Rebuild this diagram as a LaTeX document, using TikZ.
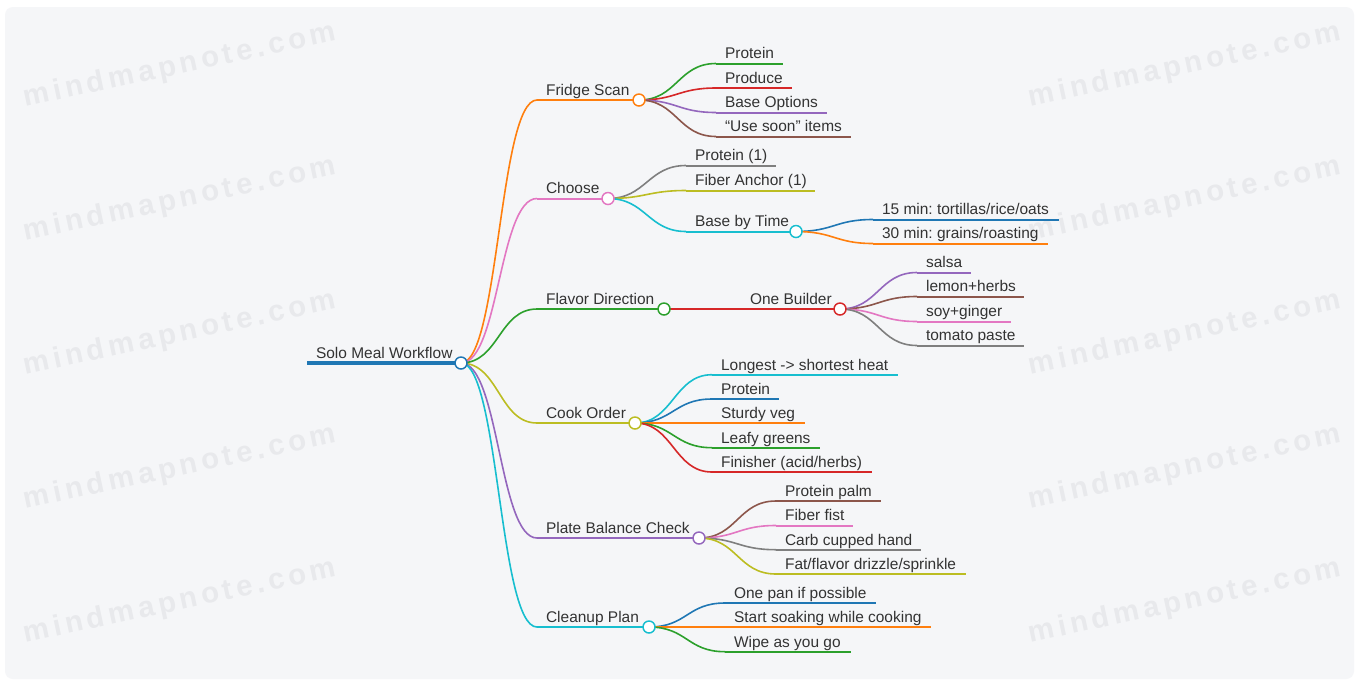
\documentclass[tikz,border=0pt]{standalone}
\usepackage{fontspec}
\setmainfont{Liberation Sans}
\frenchspacing
\definecolor{mblue}{HTML}{1F77B4}
\definecolor{morange}{HTML}{FF7F0E}
\definecolor{mgreen}{HTML}{2CA02C}
\definecolor{mred}{HTML}{D62728}
\definecolor{mpurple}{HTML}{9467BD}
\definecolor{mbrown}{HTML}{8C564B}
\definecolor{mpink}{HTML}{E377C2}
\definecolor{mgray}{HTML}{7F7F7F}
\definecolor{molive}{HTML}{BCBD22}
\definecolor{mcyan}{HTML}{17BECF}
\definecolor{bgc}{HTML}{F5F6F8}
\definecolor{wmc}{HTML}{E8E9EC}
\definecolor{txtc}{HTML}{333333}
\pgfdeclarelayer{wmlayer}
\pgfdeclarelayer{linklayer}
\pgfsetlayers{wmlayer,linklayer,main}
\tikzset{
  conn/.style={line width=1.2pt, out=0, in=180, distance=28.5pt},
  uline/.style={line width=1.5pt},
  rootline/.style={line width=2.6pt},
  lbl/.style={anchor=base west, inner sep=0pt, text=txtc, font=\fontsize{11.6pt}{14pt}\selectfont},
  dot/.style={circle, minimum size=9pt, inner sep=0pt, fill=white, line width=1.1pt},
  wm/.style={rotate=12, text=wmc, inner sep=0pt, font=\fontsize{22pt}{26pt}\selectfont\bfseries\addfontfeature{LetterSpace=14}}
}
% name, color, startx, y, endx, parent, text
\newcommand\mmleaf[7]{%
  \coordinate (#1-s) at (#3,#4);
  \coordinate (#1-e) at (#5,#4);
  \begin{pgfonlayer}{linklayer}
  \draw[conn,draw=#2] (#6.center) to (#1-s);
  \draw[uline,draw=#2] (#1-s) -- (#1-e);
  \end{pgfonlayer}
  \node[lbl] (#1-t) at ([xshift=6.6pt,yshift=3.4pt]#1-s) {#7};
}
% name, color, startx, y, circlex, parent, text
\newcommand\mminner[7]{%
  \coordinate (#1-s) at (#3,#4);
  \node[dot,draw=#2] (#1) at (#5,#4) {};
  \begin{pgfonlayer}{linklayer}
  \draw[conn,draw=#2] (#6.center) to (#1-s);
  \draw[uline,draw=#2] (#1-s) -- (#1.center);
  \end{pgfonlayer}
  \node[lbl] (#1-t) at ([xshift=6.6pt,yshift=3.4pt]#1-s) {#7};
}
\begin{document}
\begin{tikzpicture}[x=0.75pt,y=-0.75pt]
\useasboundingbox (0,0) rectangle (1359,683);
\begin{pgfonlayer}{wmlayer}
\fill[white] (0,0) rectangle (1359,683);
\fill[bgc, rounded corners=6pt] (5,7) rectangle (1354,679);
\foreach \yy in {66,200,334,468,602}{
  \node[wm] (wl\yy) at (180,\yy) {mindmapnote.com};
  \node[wm] (wr\yy) at (1185,\yy) {mindmapnote.com};
}
\end{pgfonlayer}

% root
\coordinate (root-s) at (307,363);
\node[dot,draw=mblue] (root) at (461,363) {};
\begin{pgfonlayer}{linklayer}
\draw[rootline,draw=mblue] (root-s) -- (root.center);
\end{pgfonlayer}
\node[lbl] (root-t) at ([xshift=6.6pt,yshift=3.6pt]root-s) {Solo Meal Workflow};

\mminner{fs}{morange}{537}{100}{639}{root}{Fridge Scan}
\mmleaf{fs1}{mgreen}{716}{63.5}{783}{fs}{Protein}
\mmleaf{fs2}{mred}{716}{88}{792}{fs}{Produce}
\mmleaf{fs3}{mpurple}{716}{112.5}{827}{fs}{Base Options}
\mmleaf{fs4}{mbrown}{716}{136.5}{851}{fs}{“Use soon” items}

\mminner{ch}{mpink}{537}{198.5}{608}{root}{Choose}
\mmleaf{ch1}{mgray}{686}{165.5}{776}{ch}{Protein (1)}
\mmleaf{ch2}{molive}{686}{190.5}{815}{ch}{Fiber Anchor (1)}
\mminner{ch3}{mcyan}{686}{231.5}{796}{ch}{Base by Time}
\mmleaf{ch31}{mblue}{873}{219.5}{1059}{ch3}{15 min: tortillas/rice/oats}
\mmleaf{ch32}{morange}{873}{243.5}{1048}{ch3}{30 min: grains/roasting}

\mminner{fd}{mgreen}{537}{309}{664}{root}{Flavor Direction}
\mminner{fd1}{mred}{741}{309}{840}{fd}{One Builder}
\mmleaf{fd11}{mpurple}{917}{272.5}{971}{fd1}{salsa}
\mmleaf{fd12}{mbrown}{917}{296.5}{1024}{fd1}{lemon+herbs}
\mmleaf{fd13}{mpink}{917}{321.5}{1011}{fd1}{soy+ginger}
\mmleaf{fd14}{mgray}{917}{345.5}{1024}{fd1}{tomato paste}

\mminner{co}{molive}{537}{423}{635}{root}{Cook Order}
\mmleaf{co1}{mcyan}{712}{374.7}{898}{co}{Longest -> shortest heat}
\mmleaf{co2}{mblue}{712}{399}{779}{co}{Protein}
\mmleaf{co3}{morange}{712}{423}{805}{co}{Sturdy veg}
\mmleaf{co4}{mgreen}{712}{447.7}{820}{co}{Leafy greens}
\mmleaf{co5}{mred}{712}{472}{872}{co}{Finisher (acid/herbs)}

\mminner{pb}{mpurple}{537}{538}{699}{root}{Plate Balance Check}
\mmleaf{pb1}{mbrown}{776}{501}{881}{pb}{Protein palm}
\mmleaf{pb2}{mpink}{776}{525.5}{853}{pb}{Fiber fist}
\mmleaf{pb3}{mgray}{776}{549.7}{921}{pb}{Carb cupped hand}
\mmleaf{pb4}{molive}{776}{574}{966}{pb}{Fat/flavor drizzle/sprinkle}

\mminner{cp}{mcyan}{537}{627}{649}{root}{Cleanup Plan}
\mmleaf{cp1}{mblue}{725}{603}{876}{cp}{One pan if possible}
\mmleaf{cp2}{morange}{725}{627}{931}{cp}{Start soaking while cooking}
\mmleaf{cp3}{mgreen}{725}{651.7}{851}{cp}{Wipe as you go}
\end{tikzpicture}
\end{document}
